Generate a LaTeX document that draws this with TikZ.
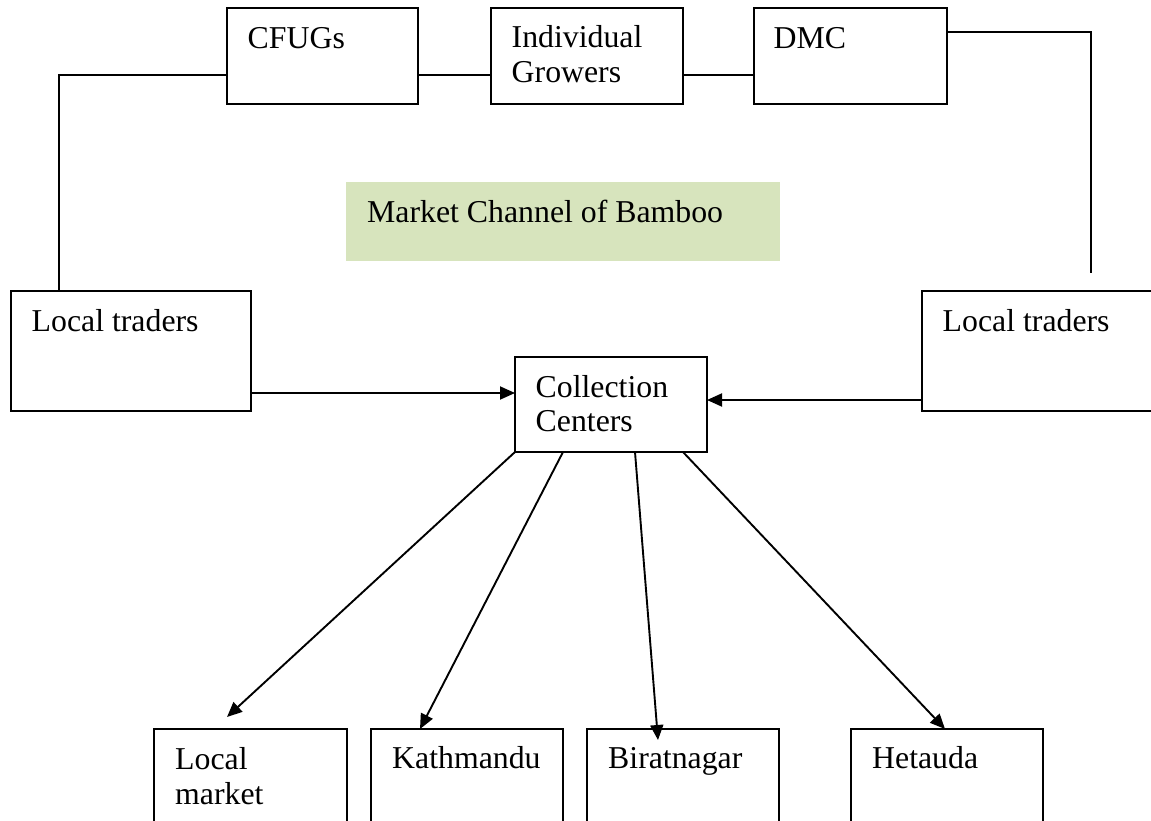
\documentclass[tikz,border=0pt]{standalone}
\usepackage{fontspec}
\setmainfont{Liberation Serif}
\usetikzlibrary{arrows.meta}
\definecolor{bamboo}{HTML}{D7E4BD}

\begin{document}
\begin{tikzpicture}[x=1pt, y=-1pt,
    box/.style={draw=black, line width=2.2pt, rectangle, anchor=north west, inner sep=0pt, outer sep=0pt},
    lbl/.style={anchor=base west, inner sep=0pt, align=left, font=\fontsize{31.8}{34.5}\selectfont},
    conn/.style={line width=2.2pt},
    arr/.style={line width=1.9pt, -{Triangle[length=15pt,width=13pt]}}]
     \clip (0,0) rectangle (1151,821);

     % top row
     \node[box, minimum width=191, minimum height=96] (cfugs) at (227,8) {};
     \node[box, minimum width=192, minimum height=96] (grow)  at (491,8) {};
     \node[box, minimum width=193, minimum height=96] (dmc)   at (754,8) {};
     \node[lbl] (cfugs-t) at ([shift={(20.5,40.5)}]cfugs.north west) {CFUGs};
     \node[lbl] (grow-t)  at ([shift={(20.5,74.5)}]grow.north west)  {Individual\\Growers};
     \node[lbl] (dmc-t)   at ([shift={(19.5,40.5)}]dmc.north west)   {DMC};

     % title
     \node[box, draw=none, fill=bamboo, minimum width=434, minimum height=79] (title) at (346,182) {};
     \node[lbl] (title-t) at ([shift={(21,40.5)}]title.north west) {Market Channel of Bamboo};

     % traders and centre
     \node[box, minimum width=240, minimum height=120] (ltl)  at (11,291)  {};
     \node[box, minimum width=250, minimum height=120] (ltr)  at (922,291) {};
     \node[box, minimum width=192, minimum height=95]  (coll) at (515,357) {};
     \node[lbl] (ltl-t)  at ([shift={(20.5,40.5)}]ltl.north west)  {Local traders};
     \node[lbl] (ltr-t)  at ([shift={(20.5,40.5)}]ltr.north west)  {Local traders};
     \node[lbl] (coll-t) at ([shift={(20.5,74.5)}]coll.north west) {Collection\\Centers};

     % markets
     \node[box, minimum width=193, minimum height=110] (lmkt) at (154,729) {};
     \node[box, minimum width=192, minimum height=110] (ktm)  at (371,729) {};
     \node[box, minimum width=192, minimum height=110] (brt)  at (587,729) {};
     \node[box, minimum width=192, minimum height=110] (het)  at (851,729) {};
     \node[lbl] (lmkt-t) at ([shift={(21,75)}]lmkt.north west) {Local\\market};
     \node[lbl] (ktm-t)  at ([shift={(21,39)}]ktm.north west)  {Kathmandu};
     \node[lbl] (brt-t)  at ([shift={(21,39)}]brt.north west)  {Biratnagar};
     \node[lbl] (het-t)  at ([shift={(21,39)}]het.north west)  {Hetauda};

     % connectors
     \coordinate (lc)   at (59,75);
     \coordinate (rc)   at (1091,32);
     \coordinate (rend) at (1091,273);
     \coordinate (la)   at (0,393);
     \coordinate (ra)   at (0,400);
     \draw[conn] (cfugs.west |- lc) -- (lc) -- (lc |- ltl.north);
     \draw[conn] (cfugs.east |- lc) -- (grow.west |- lc);
     \draw[conn] (grow.east |- lc) -- (dmc.west |- lc);
     \draw[conn] (dmc.east |- rc) -| (rend);

     \draw[arr] (ltl.east |- la) -- (coll.west |- la);
     \draw[arr] (ltr.west |- ra) -- (coll.east |- ra);

     \draw[arr] (coll.south west) -- ([shift={(73,-12)}]lmkt.north west);
     \draw[arr] ([shift={(48,0)}]coll.south west) -- ([shift={(49,0)}]ktm.north west);
     \draw[arr] ([shift={(120,0)}]coll.south west) -- ([shift={(71,11)}]brt.north west);
     \draw[arr] ([shift={(168,0)}]coll.south west) -- ([shift={(94,0)}]het.north west);
\end{tikzpicture}
\end{document}
